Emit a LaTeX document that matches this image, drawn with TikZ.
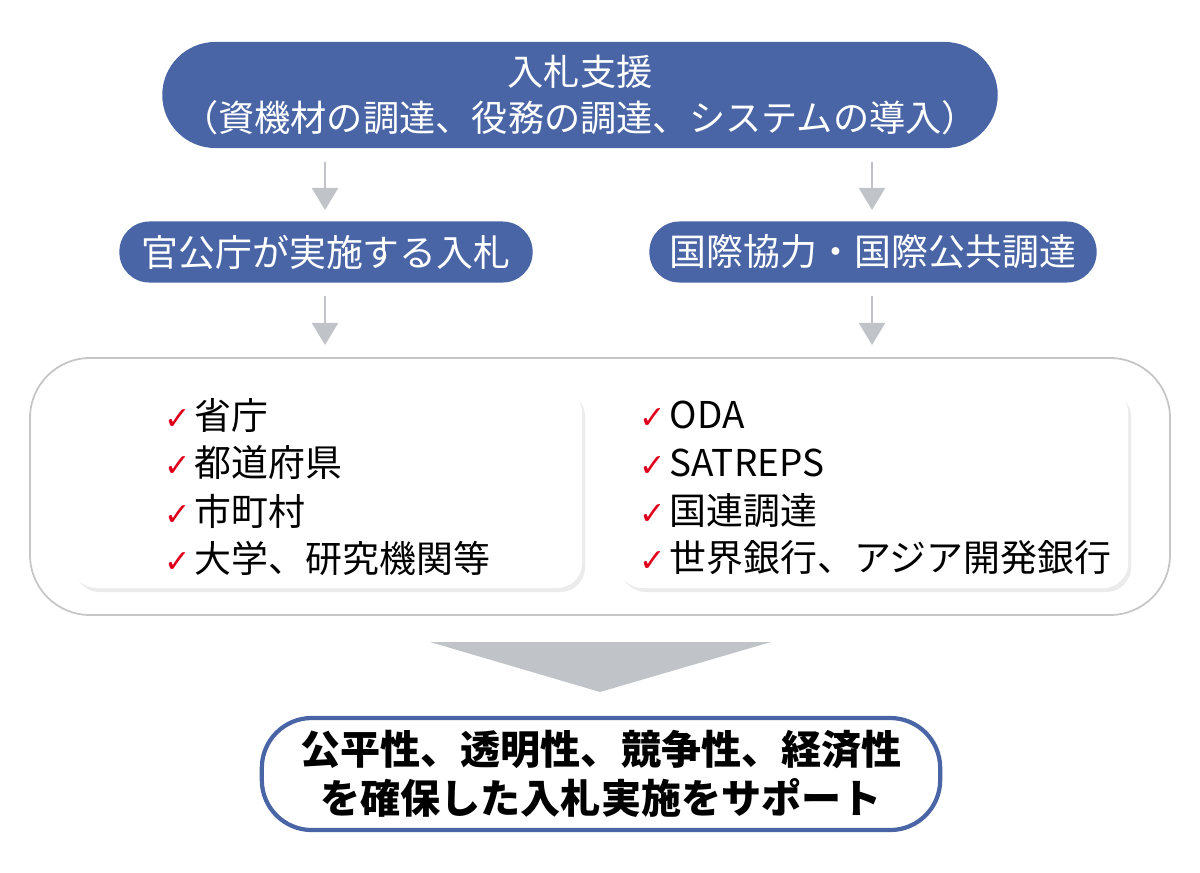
\documentclass[tikz,border=0pt]{standalone}
\usepackage{fontspec}
\setmainfont{Noto Sans CJK JP}
\usetikzlibrary{positioning,arrows.meta,shadows}
\definecolor{pillblue}{HTML}{4A65A6}
\definecolor{arrowgray}{HTML}{C0C4C8}
\definecolor{checkred}{HTML}{E0001B}
\tikzset{
  pill/.style={rounded corners=0.3cm, fill=pillblue, text=white, align=center, inner sep=0pt},
  down/.style={-{Triangle[length=2.2mm,width=2.6mm]}, draw=arrowgray, line width=0.6pt},
  listbox/.style={rounded corners=0.25cm, fill=white, draw=none, drop shadow={shadow xshift=0.3mm, shadow yshift=-0.4mm, opacity=0.08, fill=black}},
  item/.style={anchor=west, font=\fontsize{10.5}{12}\selectfont, inner sep=0pt},
}
\newcommand{\chk}{\textcolor{checkred}{\fontspec{DejaVu Sans}\fontsize{9}{10}\selectfont\bfseries ✓}\hspace{1pt}}
\begin{document}
\begin{tikzpicture}[x=0.01cm, y=-0.01cm]
    \useasboundingbox (0,0) rectangle (1200,872);

    % top and second row
    \node(top) [pill, rounded corners=0.53cm, minimum width=8.35cm, minimum height=1.06cm, font=\fontsize{10.3}{13}\selectfont] at (580,95) {入札支援\\（資機材の調達、役務の調達、システムの導入）};
    \node(gov) [pill, minimum width=4.13cm, minimum height=0.61cm, font=\fontsize{10.5}{11}\selectfont] at (326,252) {官公庁が実施する入札};
    \node(intl) [pill, minimum width=4.47cm, minimum height=0.61cm, font=\fontsize{10.5}{11}\selectfont] at (873,252) {国際協力・国際公共調達};

    \coordinate(a1) at (325,162); \coordinate(a2) at (325,210);
    \coordinate(b1) at (872,162); \coordinate(b2) at (872,210);
    \coordinate(a3) at (325,296); \coordinate(a4) at (325,345);
    \coordinate(b3) at (872,296); \coordinate(b4) at (872,345);
    \draw [down] (a1) -- (a2);
    \draw [down] (b1) -- (b2);
    \draw [down] (a3) -- (a4);
    \draw [down] (b3) -- (b4);

    % lists
    \draw [draw=gray!45, rounded corners=0.6cm, line width=0.5pt] (30,358) rectangle (1170,615);
    \node(left) [listbox, minimum width=5.1cm, minimum height=2cm] at (327,488) {};
    \node(right) [listbox, minimum width=5.1cm, minimum height=2cm] at (873,488) {};

    \node(l1) [item] at (164,415) {\chk 省庁};
    \node(l2) [item] at (164,463) {\chk 都道府県};
    \node(l3) [item] at (164,511) {\chk 市町村};
    \node(l4) [item] at (164,558) {\chk 大学、研究機関等};
    \node(r1) [item] at (639,415) {\chk ODA};
    \node(r2) [item] at (639,463) {\chk SATREPS};
    \node(r3) [item] at (639,511) {\chk 国連調達};
    \node(r4) [item] at (639,558) {\chk 世界銀行、アジア開発銀行};

    % result
    \fill [arrowgray] (430,642) -- (771,642) -- (600,692) -- cycle;
    \node(goal) [draw=pillblue, line width=1.2pt, fill=white, rounded corners=0.5cm, minimum width=6.78cm, minimum height=1.12cm, align=center, font=\fontsize{11.4}{14}\selectfont\bfseries] at (601,774) {公平性、透明性、競争性、経済性\\を確保した入札実施をサポート};
\end{tikzpicture}
\end{document}
